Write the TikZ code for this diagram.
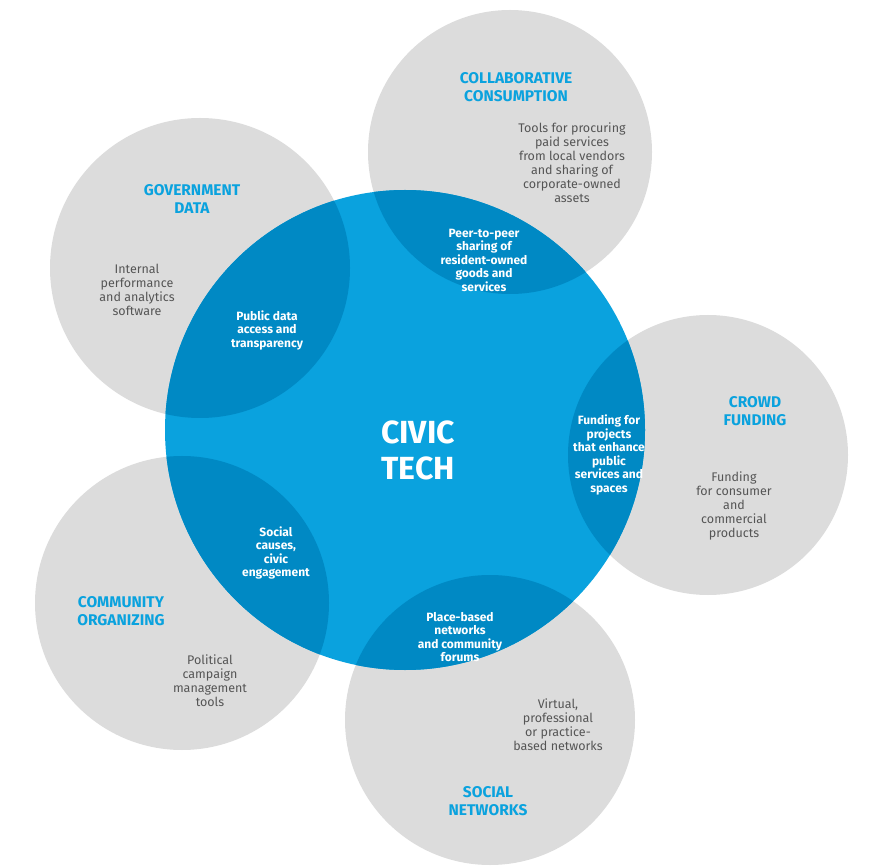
\documentclass[tikz,border=0pt]{standalone}
\usepackage{fontspec}
\setmainfont{Fira Sans}
\definecolor{petal}{HTML}{DCDCDC}
\definecolor{civic}{HTML}{0AA2DE}
\definecolor{overlap}{HTML}{0089C4}
\definecolor{bodygray}{HTML}{555555}
\begin{document}
\begin{tikzpicture}[x=1pt,y=-1pt,
  heading/.style={align=center,text=civic,font=\fontsize{15.5}{17.5}\selectfont\bfseries},
  body/.style={align=center,text=bodygray,font=\fontsize{12.5}{14}\selectfont},
  inner/.style={align=center,text=white,font=\fontsize{12}{13.5}\selectfont\bfseries}]
\useasboundingbox (0,0) rectangle (884,866);
% petals
\coordinate (cc) at (405,430);
\coordinate (pc) at (510,152);
\coordinate (pg) at (200,268);
\coordinate (pf) at (708,455);
\coordinate (po) at (182,603);
\coordinate (ps) at (490,720);
\foreach \p/\r in {pc/142,pg/150,pf/140,po/147,ps/145}
  \fill[petal] (\p) circle (\r);
\fill[civic] (cc) circle (240);
% overlaps
\foreach \p/\r in {pc/142,pg/150,pf/140,po/147,ps/145}{
  \begin{scope}
    \clip (cc) circle (240);
    \fill[overlap] (\p) circle (\r);
  \end{scope}}
% texts
\node[text=white,font=\fontsize{32}{36}\selectfont\bfseries,align=center] (civ) at (418,450) {CIVIC\\TECH};
\node[heading] (hc) at (516,87) {COLLABORATIVE\\CONSUMPTION};
\node[body] (bc) at (572,163) {Tools for procuring\\paid services\\from local vendors\\and sharing of\\corporate-owned\\assets};
\node[inner] (ic) at (484,260) {Peer-to-peer\\sharing of\\resident-owned\\goods and\\services};
\node[heading] (hg) at (192,199) {GOVERNMENT\\DATA};
\node[body] (bg) at (137,290) {Internal\\performance\\and analytics\\software};
\node[inner] (ig) at (267,330) {Public data\\access and\\transparency};
\node[heading] (hf) at (755,411) {CROWD\\FUNDING};
\node[body] (bf) at (734,506) {Funding\\for consumer\\and\\commercial\\products};
\node[inner] (if) at (609,455) {Funding for\\projects\\that enhance\\public\\services and\\spaces};
\node[heading] (ho) at (121,611) {COMMUNITY\\ORGANIZING};
\node[body] (bo) at (210,681) {Political\\campaign\\management\\tools};
\node[inner] (io) at (276,553) {Social\\causes,\\civic\\engagement};
\node[heading] (hs) at (488,801) {SOCIAL\\NETWORKS};
\node[body] (bs) at (558,725) {Virtual,\\professional\\or practice-\\based networks};
\node[inner] (is) at (460,637) {Place-based\\networks\\and community\\forums};
\end{tikzpicture}
\end{document}
